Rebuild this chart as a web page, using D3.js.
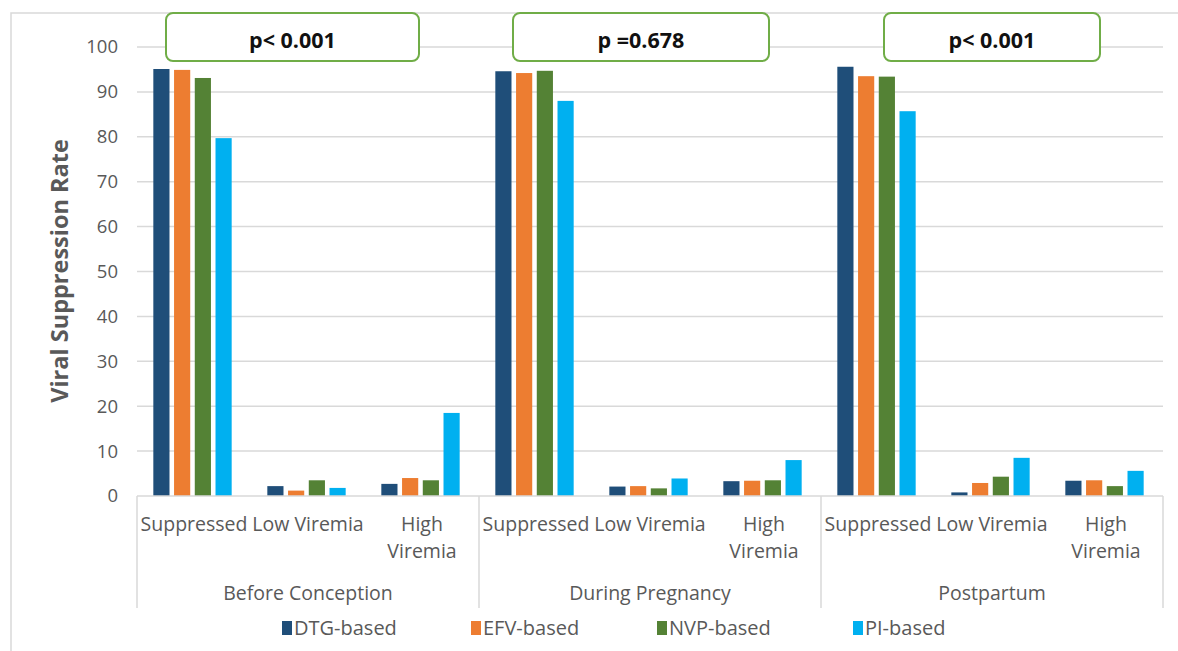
<!DOCTYPE html>
<html><head><meta charset="utf-8">
<script src="https://cdn.jsdelivr.net/npm/d3@7"></script>
<style>body{margin:0;background:#fff;} svg{display:block;}</style>
</head><body>
<svg id="chart" width="1178" height="651"></svg>
<script>
const periods = ["Before Conception", "During Pregnancy", "Postpartum"];
const statuses = [["Suppressed"], ["Low Viremia"], ["High", "Viremia"]];
const seriesNames = ["DTG-based", "EFV-based", "NVP-based", "PI-based"];
const seriesColors = ["#1F4E79", "#ED7D31", "#548235", "#00B0F0"];
// values per series, ordered: BC(Sup,Low,High), DP(Sup,Low,High), PP(Sup,Low,High)
const dtg = [95.1, 2.2, 2.7, 94.6, 2.1, 3.3, 95.6, 0.8, 3.4];
const efv = [94.9, 1.2, 4.0, 94.2, 2.2, 3.4, 93.5, 2.9, 3.5];
const nvp = [93.1, 3.5, 3.5, 94.7, 1.7, 3.5, 93.4, 4.3, 2.2];
const pi  = [79.7, 1.8, 18.5, 88.0, 3.9, 8.0, 85.7, 8.5, 5.6];
const pValues = ["p< 0.001", "p =0.678", "p< 0.001"];
const yTicks = [0, 10, 20, 30, 40, 50, 60, 70, 80, 90, 100];

(function () {
const series = [dtg, efv, nvp, pi];
const svg = d3.select("#chart");
const mLeft = 137, mRight = 1163, mTop = 47, mBottom = 496;
const font = "'Open Sans', sans-serif";
const textColor = "#595959";

// outer frame
svg.append("path").attr("d", "M11,651 V13 H1178").attr("fill", "none").attr("stroke", "#d9d9d9").attr("stroke-width", 1.5);

const y = d3.scaleLinear().domain([0, 100]).range([mBottom, mTop]);
const xPeriod = d3.scaleBand().domain(periods).range([mLeft, mRight]).padding(0);
const xStatus = d3.scaleBand().domain([0, 1, 2]).range([0, xPeriod.bandwidth()]).padding(0);
const xSeries = d3.scaleBand().domain(seriesNames).range([0, xStatus.bandwidth()]).paddingInner(0.22).paddingOuter(0.86);

// gridlines
svg.append("g").selectAll("line").data(yTicks.filter(d => d > 0)).join("line")
  .attr("x1", mLeft).attr("x2", mRight).attr("y1", d => y(d)).attr("y2", d => y(d))
  .attr("stroke", "#d9d9d9").attr("stroke-width", 1.5);

// y axis
const yAxis = d3.axisLeft(y).tickValues(yTicks).tickSize(0).tickPadding(19);
const ya = svg.append("g").attr("transform", `translate(${mLeft},0)`).call(yAxis);
ya.select(".domain").remove();
ya.selectAll("text").attr("font-family", font).attr("font-size", 18.5).attr("fill", textColor);

svg.append("text").attr("transform", `translate(68,271) rotate(-90)`)
  .attr("text-anchor", "middle").attr("font-family", font).attr("font-weight", "bold")
  .attr("font-size", 23.5).attr("fill", textColor).text("Viral Suppression Rate");

// bars
const barData = [];
periods.forEach((p, pIdx) => {
  statuses.forEach((s, si) => {
    series.forEach((arr, k) => {
      barData.push({p, si, k, v: arr[pIdx * 3 + si]});
    });
  });
});
svg.append("g").selectAll("rect").data(barData).join("rect")
  .attr("x", d => xPeriod(d.p) + xStatus(d.si) + xSeries(seriesNames[d.k]) - 1.5)
  .attr("width", xSeries.bandwidth())
  .attr("y", d => y(d.v)).attr("height", d => y(0) - y(d.v))
  .attr("fill", d => seriesColors[d.k]);

// x axis baseline and separators
svg.append("line").attr("x1", mLeft).attr("x2", mRight).attr("y1", mBottom).attr("y2", mBottom)
  .attr("stroke", "#d9d9d9").attr("stroke-width", 1.5);
const seps = periods.map(p => xPeriod(p)).concat([mRight]);
svg.append("g").selectAll("line").data(seps).join("line")
  .attr("x1", d => d).attr("x2", d => d).attr("y1", mBottom).attr("y2", 608)
  .attr("stroke", "#d9d9d9").attr("stroke-width", 1.5);

// status labels
periods.forEach(p => {
  statuses.forEach((lines, si) => {
    const cx = xPeriod(p) + xStatus(si) + xStatus.bandwidth() / 2;
    const t = svg.append("text").attr("text-anchor", "middle").attr("font-family", font)
      .attr("font-size", 19.5).attr("fill", textColor);
    lines.forEach((ln, i) => t.append("tspan").attr("x", cx).attr("y", 531 + i * 27).text(ln));
  });
  svg.append("text").attr("x", xPeriod(p) + xPeriod.bandwidth() / 2).attr("y", 600)
    .attr("text-anchor", "middle").attr("font-family", font).attr("font-size", 19.5)
    .attr("fill", textColor).text(p);
});

// p-value boxes
const boxes = [[166, 419], [513, 769], [884, 1100]];
periods.forEach((p, i) => {
  const [x0, x1] = boxes[i];
  svg.append("rect").attr("x", x0).attr("y", 13).attr("width", x1 - x0).attr("height", 48)
    .attr("rx", 7).attr("fill", "#fff").attr("stroke", "#70AD47").attr("stroke-width", 2);
  svg.append("text").attr("x", (x0 + x1) / 2).attr("y", 48).attr("text-anchor", "middle")
    .attr("font-family", font).attr("font-weight", "bold").attr("font-size", 21.5)
    .attr("fill", "#111").text(pValues[i]);
});

// legend
const legX = [282, 471, 657, 853];
seriesNames.forEach((n, i) => {
  svg.append("rect").attr("x", legX[i]).attr("y", 621).attr("width", 10).attr("height", 14).attr("fill", seriesColors[i]);
  svg.append("text").attr("x", legX[i] + 12).attr("y", 635).attr("font-family", font)
    .attr("font-size", 20).attr("fill", textColor).text(n);
});
})();
</script>
</body></html>
